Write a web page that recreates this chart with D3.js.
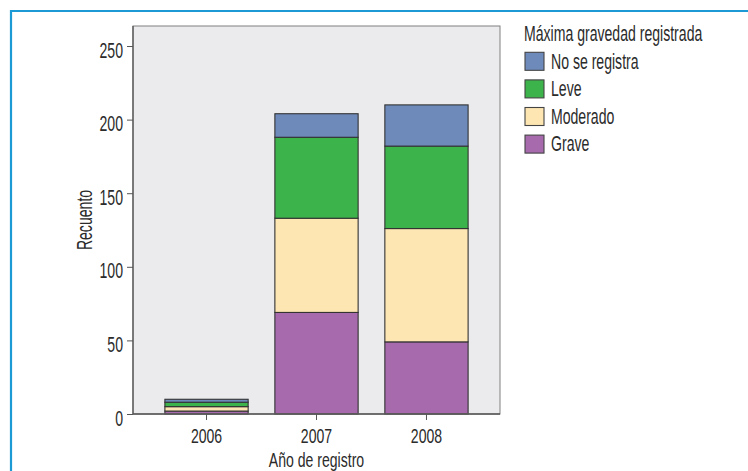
<!DOCTYPE html>
<html>
<head>
<meta charset="utf-8">
<script src="https://cdn.jsdelivr.net/npm/d3@7"></script>
<style>
  html, body { margin: 0; padding: 0; background: #fff; }
  svg { display: block; }
  text { font-family: "Liberation Sans", Arial, sans-serif; fill: #2b2b2b; }
</style>
</head>
<body>
<svg id="chart" width="748" height="471"></svg>
<script>
// Registros por año, apilados según la máxima gravedad registrada
const years = ["2006", "2007", "2008"];
const severities = ["Grave", "Moderado", "Leve", "No se registra"];
const grave = [2, 69, 49];
const moderado = [3, 64, 77];
const leve = [3, 55, 56];
const noSeRegistra = [2, 16, 28];
const severityColors = ["#a66aad", "#fde6b2", "#3db44b", "#6d8abb"];
const yTicks = [0, 50, 100, 150, 200, 250];
const yMax = 263.6;

const legendTitle = "Máxima gravedad registrada";
const xTitle = "Año de registro";
const yTitle = "Recuento";

const rows = years.map((year, i) => ({
  year,
  "Grave": grave[i],
  "Moderado": moderado[i],
  "Leve": leve[i],
  "No se registra": noSeRegistra[i]
}));

// condensed lettering: font size and horizontal compression
const SX = 0.64;
const FS = 22;
const FS_X = 21;       // bottom axis lines, a touch smaller so they keep clear of each other
const SX_X = SX * FS / FS_X;

const svg = d3.select("#chart");

// blue frame lines
svg.append("line").attr("x1", 11).attr("x2", 748).attr("y1", 11).attr("y2", 11)
  .attr("stroke", "#1b9ad6").attr("stroke-width", 2.2);
svg.append("line").attr("x1", 11).attr("x2", 11).attr("y1", 10).attr("y2", 471)
  .attr("stroke", "#1b9ad6").attr("stroke-width", 2.2);

const plot = { left: 133, top: 26, right: 500, bottom: 414 };

const x = d3.scaleBand().domain(years)
  .range([plot.left, plot.right])
  .paddingInner(0.243).paddingOuter(0.29);
const y = d3.scaleLinear().domain([0, yMax]).range([plot.bottom, plot.top]);
const color = d3.scaleOrdinal().domain(severities).range(severityColors);

// plot background
svg.append("rect")
  .attr("x", plot.left).attr("y", plot.top)
  .attr("width", plot.right - plot.left).attr("height", plot.bottom - plot.top)
  .attr("fill", "#ebebee");

// stacked bars
const stacked = d3.stack().keys(severities)(rows);
svg.append("g").selectAll("g")
  .data(stacked).join("g")
  .attr("fill", d => color(d.key))
  .selectAll("rect")
  .data(d => d).join("rect")
  .attr("x", d => x(d.data.year))
  .attr("width", x.bandwidth())
  .attr("y", d => y(d[1]))
  .attr("height", d => y(d[0]) - y(d[1]))
  .attr("stroke", "#333")
  .attr("stroke-width", 1.1);

// plot frame
svg.append("rect")
  .attr("x", plot.left).attr("y", plot.top)
  .attr("width", plot.right - plot.left).attr("height", plot.bottom - plot.top)
  .attr("fill", "none").attr("stroke", "#808080").attr("stroke-width", 1);
svg.append("line")
  .attr("x1", plot.left).attr("x2", plot.right)
  .attr("y1", plot.bottom).attr("y2", plot.bottom)
  .attr("stroke", "#555").attr("stroke-width", 1.3);
svg.append("line")
  .attr("x1", plot.left).attr("x2", plot.left)
  .attr("y1", plot.top).attr("y2", plot.bottom)
  .attr("stroke", "#555").attr("stroke-width", 1.3);

// y axis
const yAxis = svg.append("g")
  .attr("transform", `translate(${plot.left},0)`)
  .call(d3.axisLeft(y).tickValues(yTicks).tickSize(6).tickSizeOuter(0));
yAxis.select(".domain").remove();
yAxis.selectAll(".tick line").attr("stroke", "#555");
yAxis.selectAll(".tick text")
  .attr("x", null).attr("dy", null)
  .attr("transform", `translate(-10,11) scale(${SX},1)`)
  .attr("font-size", FS).attr("font-family", null).attr("fill", "#2b2b2b");

// x axis
const xAxis = svg.append("g")
  .attr("transform", `translate(0,${plot.bottom})`)
  .call(d3.axisBottom(x).tickSize(6).tickSizeOuter(0));
xAxis.select(".domain").remove();
xAxis.selectAll(".tick line").attr("stroke", "#555");
xAxis.selectAll(".tick text")
  .attr("y", null).attr("dy", null)
  .attr("transform", `translate(0,29) scale(${SX_X},1)`)
  .attr("font-size", FS_X).attr("font-family", null).attr("fill", "#2b2b2b");

// axis titles
svg.append("text")
  .attr("transform", `translate(${(plot.left + plot.right) / 2},466.5) scale(${SX_X},1)`)
  .attr("text-anchor", "middle").attr("font-size", FS_X)
  .text(xTitle);
svg.append("text")
  .attr("transform", `translate(92,${(plot.top + plot.bottom) / 2}) rotate(-90) scale(${SX},1)`)
  .attr("text-anchor", "middle").attr("font-size", FS)
  .text(yTitle);

// legend
const legend = svg.append("g").attr("transform", "translate(524,0)");
legend.append("text")
  .attr("transform", `translate(0,41) scale(${SX},1)`)
  .attr("font-size", FS)
  .text(legendTitle);
const legendItems = severities.slice().reverse();
const item = legend.selectAll("g.item")
  .data(legendItems).join("g")
  .attr("class", "item")
  .attr("transform", (d, i) => `translate(0,${52.3 + i * 27.6})`);
item.append("rect")
  .attr("x", 1).attr("y", 0).attr("width", 19).attr("height", 18)
  .attr("fill", d => color(d)).attr("stroke", "#444").attr("stroke-width", 1.1);
item.append("text")
  .attr("transform", `translate(27,16.3) scale(${SX},1)`)
  .attr("font-size", FS)
  .text(d => d);
</script>
</body>
</html>
